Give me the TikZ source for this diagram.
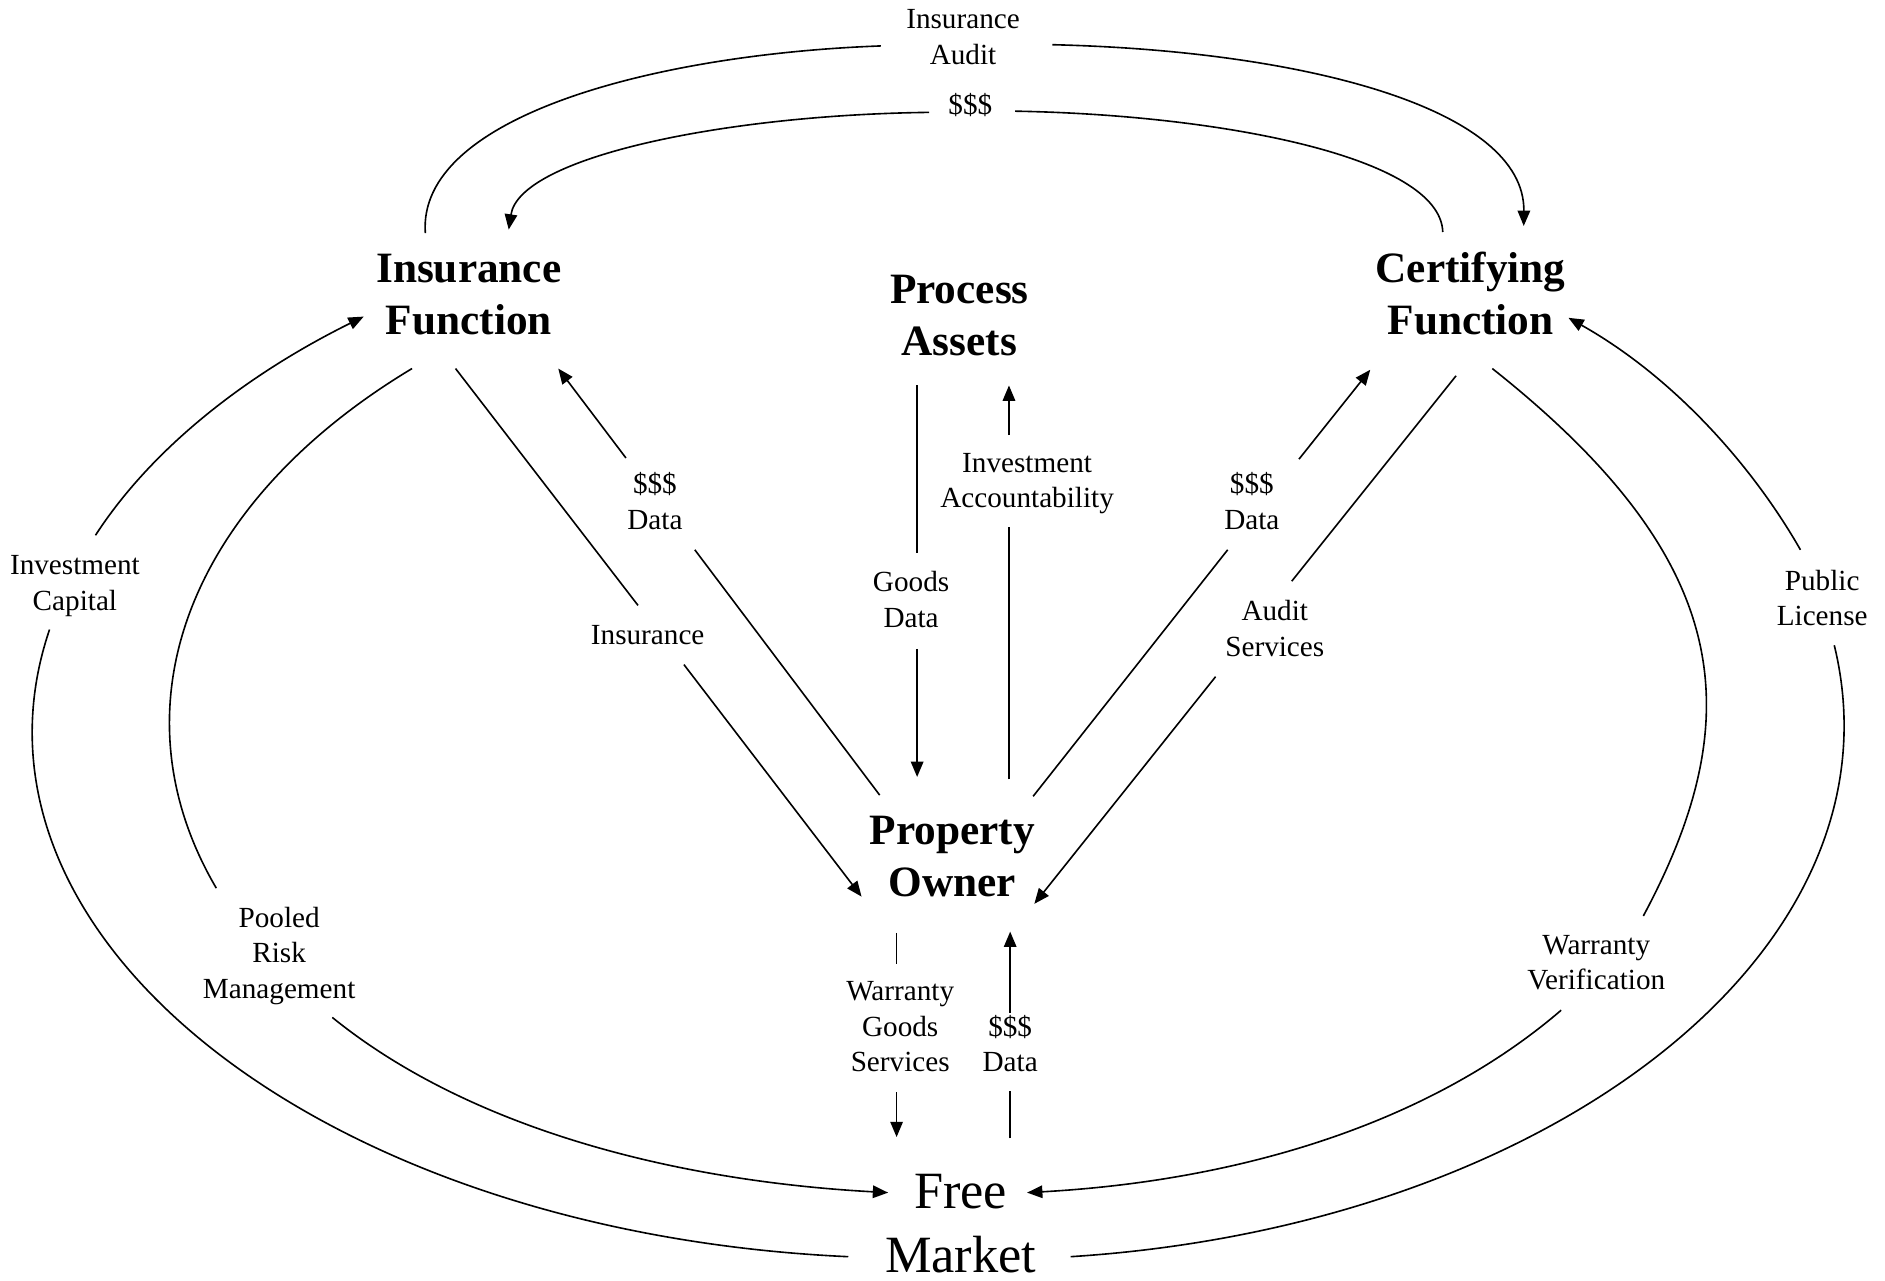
\documentclass[tikz,border=0pt]{standalone}
\usepackage{fontspec}
\setmainfont{Liberation Serif}
\usetikzlibrary{arrows.meta}
\begin{document}
\begin{tikzpicture}[x=0.6pt,y=-0.6pt,
  conn/.style={line width=0.8pt},
  arr/.style={conn,-{Triangle[length=7.6pt,width=6.2pt]}},
  title/.style={font=\bfseries\fontsize{21.5}{25.8}\selectfont,align=center,anchor=base,inner sep=0pt},
  lbl/.style={font=\fontsize{14.5}{17.6}\selectfont,align=center,anchor=base,inner sep=0pt},
  market/.style={font=\fontsize{26}{31.6}\selectfont,align=center,anchor=base,inner sep=0pt}]
\useasboundingbox[fill=white] (0,0) rectangle (1560,1060);

% main nodes (anchor = baseline of last line)
\node[title] (IF) at (388,277) {Insurance\\Function};
\node[title] (PA) at (794,294) {Process\\Assets};
\node[title] (CF) at (1217,277) {Certifying\\Function};
\node[title] (PO) at (788,742) {Property\\Owner};
\node[market] (FM) at (795,1053) {Free\\Market};

% labels
\node[lbl] (lIA) at (797,53) {Insurance\\Audit};
\node[lbl] (lTD) at (803,95) {\$\$\$};
\node[lbl] (lLD) at (542,438) {\$\$\$\\Data};
\node[lbl] (lIns) at (536,533) {Insurance};
\node[lbl] (lGD) at (754,519) {Goods\\Data};
\node[lbl] (lIAcc) at (850,420) {Investment\\Accountability};
\node[lbl] (lRD) at (1036,438) {\$\$\$\\Data};
\node[lbl] (lAS) at (1055,543) {Audit\\Services};
\node[lbl] (lIC) at (62,505) {Investment\\Capital};
\node[lbl] (lPL) at (1508,518) {Public\\License};
\node[lbl] (lPRM) at (231,826) {Pooled\\Risk\\Management};
\node[lbl] (lWV) at (1321,819) {Warranty\\Verification};
\node[lbl] (lWGS) at (745,887) {Warranty\\Goods\\Services};
\node[lbl] (lBD) at (836,887) {\$\$\$\\Data};

% connector end points
\coordinate (ia1) at (352,193); \coordinate (ia2) at (729,38);
\coordinate (ia3) at (871,37);  \coordinate (ia4) at (1261,187);
\coordinate (td1) at (1194,192); \coordinate (td2) at (840,92);
\coordinate (td3) at (769,93);  \coordinate (td4) at (421,190);
\coordinate (ic1) at (702,1040); \coordinate (ic2) at (41,521);
\coordinate (ic3) at (79,443);  \coordinate (ic4) at (301,262);
\coordinate (pr1) at (341,305); \coordinate (pr2) at (179,735);
\coordinate (pr3) at (275,842); \coordinate (pr4) at (735,987);
\coordinate (wv1) at (1235,305); \coordinate (wv2) at (1360,758);
\coordinate (wv3) at (1292,836); \coordinate (wv4) at (850,987);
\coordinate (pl1) at (886,1040); \coordinate (pl2) at (1518,534);
\coordinate (pl3) at (1490,455); \coordinate (pl4) at (1298,263);
\coordinate (in1) at (377,305); \coordinate (in2) at (528,501);
\coordinate (in3) at (566,550); \coordinate (in4) at (713,742);
\coordinate (ld1) at (728,658); \coordinate (ld2) at (575,455);
\coordinate (ld3) at (518,379); \coordinate (ld4) at (462,305);
\coordinate (gd1) at (759,319); \coordinate (gd2) at (759,458);
\coordinate (gd3) at (759,537); \coordinate (gd4) at (759,643);
\coordinate (ac1) at (835,645); \coordinate (ac2) at (835,436);
\coordinate (ac3) at (835,360); \coordinate (ac4) at (835,319);
\coordinate (rd1) at (855,659); \coordinate (rd2) at (1016,455);
\coordinate (rd3) at (1075,380); \coordinate (rd4) at (1134,306);
\coordinate (as1) at (1205,311); \coordinate (as2) at (1069,481);
\coordinate (as3) at (1006,560); \coordinate (as4) at (856,748);
\coordinate (wg1) at (742,772); \coordinate (wg2) at (742,798);
\coordinate (wg3) at (742,904); \coordinate (wg4) at (742,941);
\coordinate (bd1) at (836,942); \coordinate (bd2) at (836,903);
\coordinate (bd3) at (836,838); \coordinate (bd4) at (836,771);

% top arcs
\draw[conn] (ia1) .. controls (345,97) and (540,45) .. (ia2);
\draw[arr] (ia3) .. controls (1080,42) and (1262,90) .. (ia4);
\draw[conn] (td1) .. controls (1192,130) and (1010,95) .. (td2);
\draw[arr] (td3) .. controls (600,95) and (430,130) .. (td4);

% side arcs
\draw[conn] (ic1) .. controls (265,1020) and (-45,774) .. (ic2);
\draw[arr] (ic3) .. controls (125,372) and (202,311) .. (ic4);
\draw[conn] (pr1) .. controls (156,416) and (91,585) .. (pr2);
\draw[arr] (pr3) .. controls (386,932) and (553,977) .. (pr4);
\draw[conn] (wv1) .. controls (1433,462) and (1450,590) .. (wv2);
\draw[arr] (wv3) .. controls (1185,928) and (1030,977) .. (wv4);
\draw[conn] (pl1) .. controls (1280,1015) and (1580,788) .. (pl2);
\draw[arr] (pl3) .. controls (1450,385) and (1385,312) .. (pl4);

% straight connectors
\draw[conn] (in1) -- (in2); \draw[arr] (in3) -- (in4);
\draw[conn] (ld1) -- (ld2); \draw[arr] (ld3) -- (ld4);
\draw[conn] (gd1) -- (gd2); \draw[arr] (gd3) -- (gd4);
\draw[conn] (ac1) -- (ac2); \draw[arr] (ac3) -- (ac4);
\draw[conn] (rd1) -- (rd2); \draw[arr] (rd3) -- (rd4);
\draw[conn] (as1) -- (as2); \draw[arr] (as3) -- (as4);
\draw[conn] (wg1) -- (wg2); \draw[arr] (wg3) -- (wg4);
\draw[conn] (bd1) -- (bd2); \draw[arr] (bd3) -- (bd4);
\end{tikzpicture}
\end{document}
